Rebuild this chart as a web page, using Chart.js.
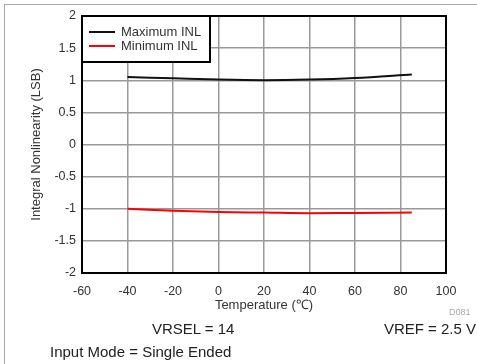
<!DOCTYPE html>
<html>
<head>
<meta charset="utf-8">
<script src="https://cdn.jsdelivr.net/npm/chart.js@4.4.0/dist/chart.umd.min.js"></script>
<style>
  html, body { margin: 0; padding: 0; background: #fff; }
  #wrap { position: relative; width: 477px; height: 364px; overflow: hidden; font-family: "Liberation Sans", Arial, sans-serif; }
  #frame { position: absolute; left: 4px; top: 4px; width: 600px; height: 600px; border-top: 1px solid #a8a8a8; border-left: 1px solid #a8a8a8; }
  canvas { position: absolute; left: 0; top: 0; }
  .note { position: absolute; color: #222; font-size: 15px; white-space: nowrap; line-height: 1; }
  #d081 { position: absolute; color: #aaa; font-size: 9px; line-height: 1; }
</style>
</head>
<body>
<div id="wrap">
  <div id="frame"></div>
  <canvas id="c" width="477" height="364"></canvas>
  <div class="note" id="vrsel" style="left:152px; top:321px;">VRSEL = 14</div>
  <div class="note" id="vref" style="right:1px; top:321px;">VREF = 2.5 V</div>
  <div class="note" id="mode" style="left:50px; top:344px;">Input Mode = Single Ended</div>
  <div id="d081" style="left:449px; top:308px;">D081</div>
</div>
<script>
const temperatures = [-40, -20, 0, 20, 40, 60, 85];
const maxINL = [1.05, 1.03, 1.01, 1.00, 1.01, 1.035, 1.09];
const minINL = [-1.00, -1.03, -1.05, -1.06, -1.07, -1.065, -1.06];
const seriesLabels = ['Maximum INL', 'Minimum INL'];
const xTitle = 'Temperature (\u2103)';
const yTitle = 'Integral Nonlinearity (LSB)';

const toPts = (ys) => temperatures.map((t, i) => ({ x: t, y: ys[i] }));

const FONT = '"Liberation Sans", Arial, sans-serif';

const frameLegend = {
  id: 'frameLegend',
  afterDraw(chart) {
    const { ctx, chartArea: a } = chart;
    ctx.save();
    ctx.strokeStyle = '#000';
    ctx.lineWidth = 2;
    ctx.strokeRect(a.left, a.top, a.right - a.left, a.bottom - a.top);
    const lx = a.left, ly = a.top, lw = 128, lh = 46;
    ctx.fillStyle = '#fff';
    ctx.fillRect(lx, ly, lw, lh);
    ctx.strokeRect(lx, ly, lw, lh);
    ctx.font = '13px ' + FONT;
    ctx.textBaseline = 'middle';
    chart.data.datasets.forEach((ds, i) => {
      const y = ly + 16 + i * 14;
      ctx.strokeStyle = ds.borderColor;
      ctx.lineWidth = 2;
      ctx.beginPath();
      ctx.moveTo(lx + 7, y);
      ctx.lineTo(lx + 33, y);
      ctx.stroke();
      ctx.fillStyle = '#333';
      ctx.fillText(ds.label, lx + 39, y);
    });
    ctx.restore();
  }
};

new Chart(document.getElementById('c'), {
  type: 'line',
  data: {
    datasets: [
      { label: seriesLabels[0], data: toPts(maxINL), borderColor: '#111', borderWidth: 2, pointRadius: 0, tension: 0.4, cubicInterpolationMode: 'monotone' },
      { label: seriesLabels[1], data: toPts(minINL), borderColor: '#ff0000', borderWidth: 2, pointRadius: 0, tension: 0.4, cubicInterpolationMode: 'monotone' }
    ]
  },
  options: {
    responsive: false,
    animation: false,
    devicePixelRatio: 1,
    layout: { padding: { top: 16, right: 31, left: 0, bottom: 51 } },
    plugins: { legend: { display: false }, tooltip: { enabled: false } },
    scales: {
      x: {
        type: 'linear', min: -60, max: 100,
        grid: { color: '#999', lineWidth: 1.5, drawTicks: false },
        border: { display: false },
        ticks: { stepSize: 20, padding: 11, color: '#333', font: { family: FONT, size: 12.5 } },
        title: { display: true, text: xTitle, color: '#333', font: { family: FONT, size: 13 }, padding: { top: 0, bottom: 0 } },
        afterFit(s) { s.height = 40; }
      },
      y: {
        min: -2, max: 2,
        grid: { color: '#999', lineWidth: 1.5, drawTicks: false },
        border: { display: false },
        ticks: { stepSize: 0.5, padding: 6, color: '#333', font: { family: FONT, size: 12.5 },
                 callback: (v) => String(Math.round(v * 10) / 10) },
        title: { display: true, text: yTitle, color: '#333', font: { family: FONT, size: 13 }, padding: { top: 29, bottom: 0 } },
        afterFit(s) { s.width = 82; }
      }
    }
  },
  plugins: [frameLegend]
});
</script>
</body>
</html>
